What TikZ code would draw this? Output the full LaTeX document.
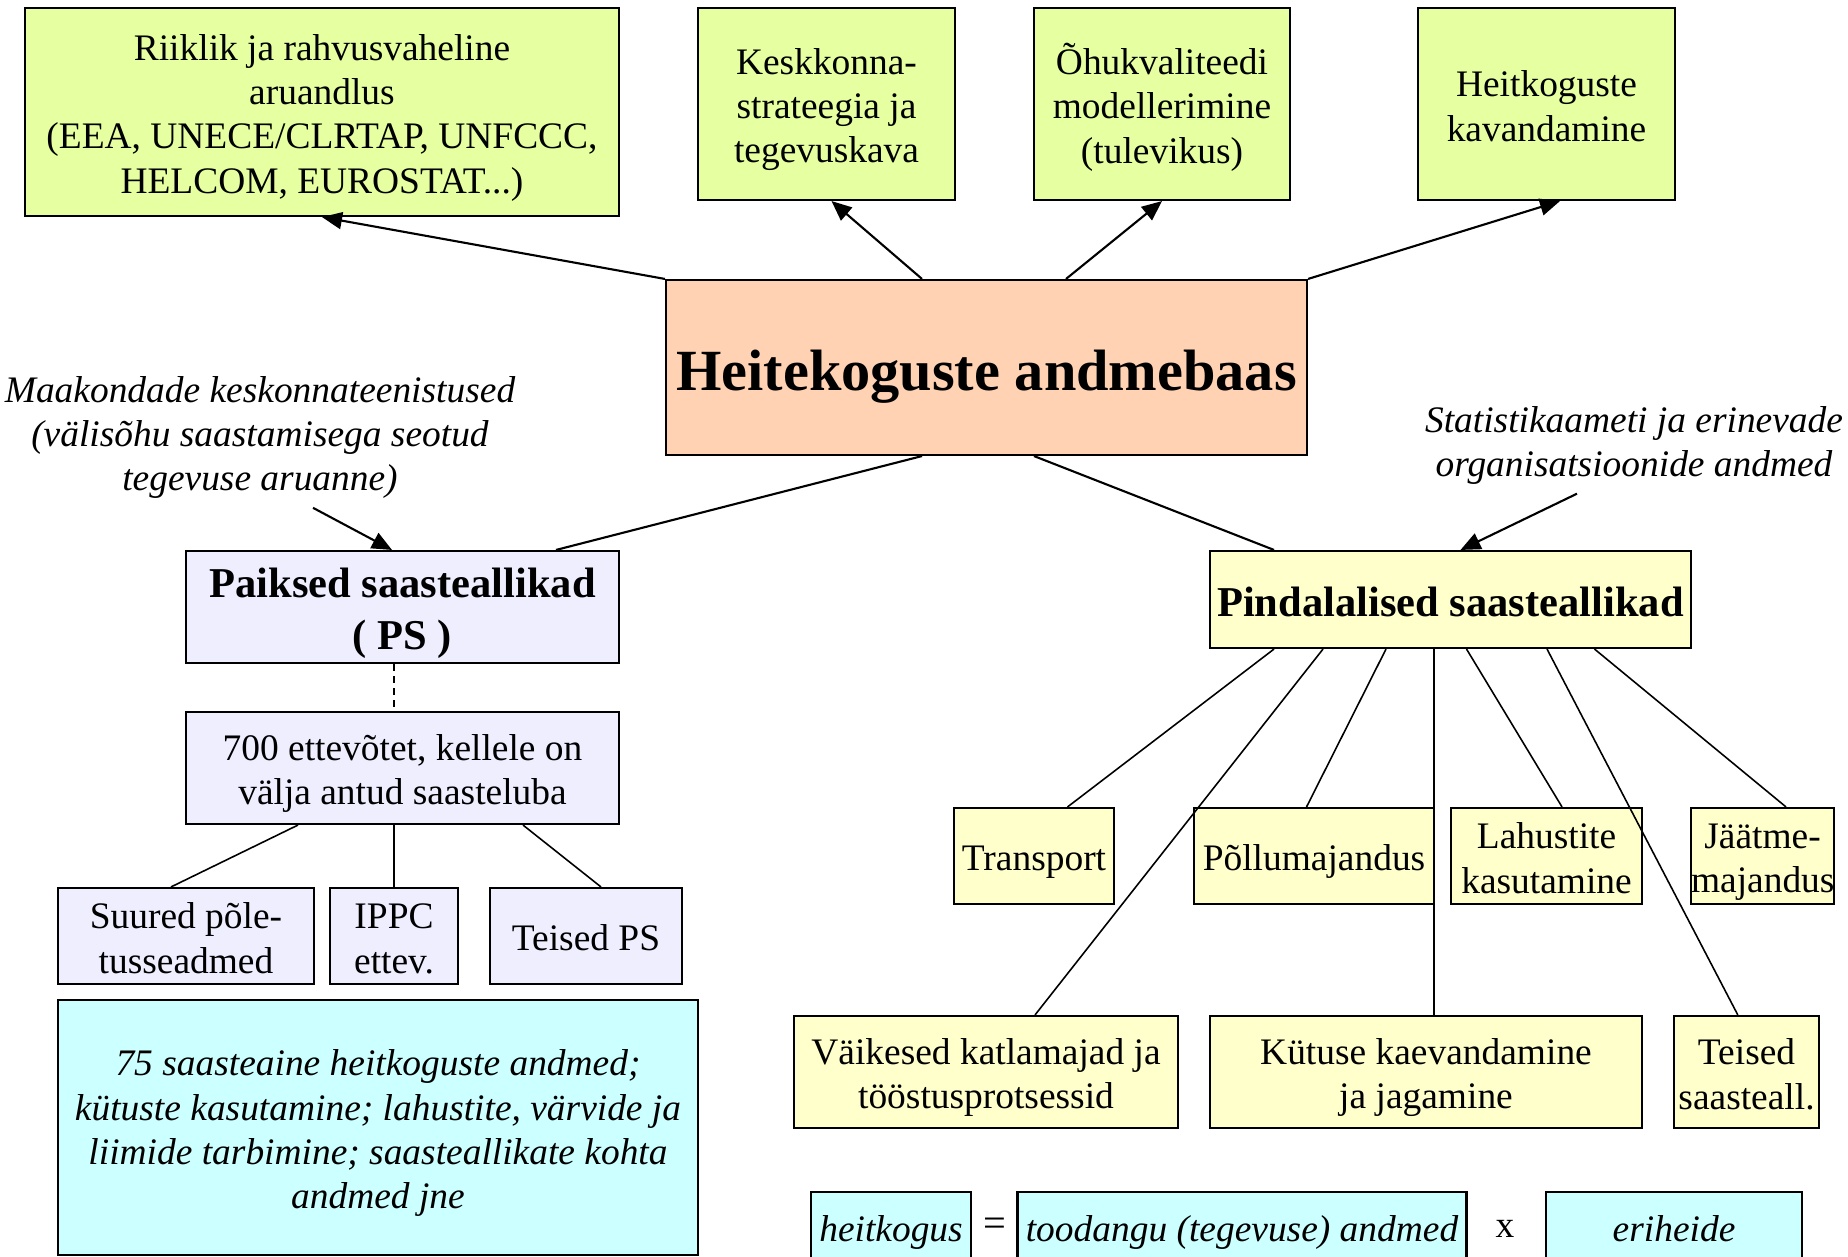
\documentclass[tikz,border=0pt]{standalone}
\usepackage{fontspec}
\setmainfont{Liberation Serif}
\usepackage{tikz}
\usetikzlibrary{arrows.meta}
\definecolor{kollroheline}{HTML}{E6FFA0}
\definecolor{virsik}{HTML}{FFD2B4}
\definecolor{lilla}{HTML}{EEEEFF}
\definecolor{kollane}{HTML}{FFFFCC}
\definecolor{helesinine}{HTML}{CCFFFF}
\newcommand\ylastrut{\rule{0pt}{1.0em}}
\newcommand\alastrut{\rule[-0.2em]{0pt}{0.2em}}

\begin{document}
\begin{tikzpicture}[>={Triangle[length=0.2cm,width=0.17cm]},line width=0.6pt,
  plainbox/.style={draw,rectangle,inner sep=0pt,align=flush center,font=\fontsize{10.65}{12.6}\selectfont,
    execute at begin node=\ylastrut,execute at end node=\alastrut},
  kast/.style 2 args={minimum width=#1,text width=#1,minimum height=#2},
  use node/.style={plainbox,fill=kollroheline},
  ps node/.style={plainbox,fill=lilla},
  pind node/.style={plainbox,fill=kollane},
  data node/.style={plainbox,fill=helesinine,font=\fontsize{10.65}{12.6}\selectfont\itshape},
  bold node/.style={font=\fontsize{12.1}{14.8}\selectfont\bfseries},
  haru/.style={line width=0.45pt},
  note/.style={align=center,inner sep=0pt,font=\fontsize{10.65}{12.6}\selectfont\itshape}]

  \useasboundingbox (0,0) rectangle (18.48,-12.56);

  % kasutajad
  \node[use node,kast={5.94cm}{2.08cm}] (riik) at (3.22,-1.12)
    {Riiklik ja rahvusvaheline\\aruandlus\\(EEA, UNECE/CLRTAP, UNFCCC,\\HELCOM, EUROSTAT...)};
  \node[use node,kast={2.57cm}{1.92cm}] (kesk) at (8.265,-1.04)
    {Keskkonna-\\strateegia ja\\tegevuskava};
  \node[use node,kast={2.56cm}{1.92cm}] (ohk) at (11.62,-1.04)
    {Õhukvaliteedi\\modellerimine\\(tulevikus)};
  \node[use node,kast={2.57cm}{1.92cm}] (kav) at (15.465,-1.04)
    {Heitkoguste\\kavandamine};

  \node[plainbox,fill=virsik,kast={6.41cm}{1.75cm},
    font=\fontsize{16.6}{20}\selectfont\bfseries] (baas) at (9.865,-3.675) {Heitekoguste andmebaas};

  \node[note] (maak) at (2.60,-4.375)
    {Maakondade keskonnateenistused\\(välisõhu saastamisega seotud\\tegevuse aruanne)};
  \node[note] (stat) at (16.34,-4.455)
    {Statistikaameti ja erinevade\\organisatsioonide andmed};

  % paiksed saasteallikad
  \node[ps node,bold node,kast={4.33cm}{1.12cm}] (paik) at (4.025,-6.07)
    {Paiksed saasteallikad\\( PS )};
  \node[ps node,kast={4.33cm}{1.12cm}] (luba) at (4.025,-7.68)
    {700 ettevõtet, kellele on\\välja antud saasteluba};
  \node[ps node,kast={2.56cm}{0.96cm}] (suur) at (1.86,-9.36) {Suured põle-\\tusseadmed};
  \node[ps node,kast={1.28cm}{0.96cm}] (ippc) at (3.94,-9.36) {IPPC\\ettev.};
  \node[ps node,kast={1.92cm}{0.96cm}] (teisps) at (5.86,-9.36) {Teised PS};
  \node[data node,kast={6.40cm}{2.55cm}] (andm) at (3.78,-11.275)
    {75 saasteaine heitkoguste andmed;\\kütuste kasutamine; lahustite, värvide ja\\liimide tarbimine; saasteallikate kohta\\andmed jne};

  % pindalalised saasteallikad
  \node[pind node,bold node,kast={4.81cm}{0.97cm}] (pind) at (14.505,-5.995)
    {Pindalalised saasteallikad};
  \node[pind node,kast={1.60cm}{0.96cm}] (trans) at (10.34,-8.56) {Transport};
  \node[pind node,kast={2.40cm}{0.96cm}] (pollu) at (13.14,-8.56) {Põllumajandus};
  \node[pind node,kast={1.91cm}{0.96cm}] (lah) at (15.465,-8.56) {Lahustite\\kasutamine};
  \node[pind node,kast={1.43cm}{0.96cm}] (jaat) at (17.625,-8.56) {Jäätme-\\majandus};
  \node[pind node,kast={3.84cm}{1.12cm}] (vaik) at (9.86,-10.72)
    {Väikesed katlamajad ja\\tööstusprotsessid};
  \node[pind node,kast={4.32cm}{1.12cm}] (kyt) at (14.26,-10.72)
    {Kütuse kaevandamine\\ja jagamine};
  \node[pind node,kast={1.45cm}{1.12cm}] (teisl) at (17.465,-10.72) {Teised\\saasteall.};

  % valem
  \node[data node,kast={1.60cm}{0.70cm}] (heit) at (8.91,-12.27) {heitkogus};
  \node[font=\fontsize{11.5}{12.6}\selectfont] (vordub) at (9.95,-12.27) {=};
  \node[data node,kast={4.49cm}{0.70cm}] (tood) at (12.42,-12.27) {toodangu (tegevuse) andmed};
  \node[font=\fontsize{10.65}{12.6}\selectfont] (korda) at (15.05,-12.29) {x};
  \node[data node,kast={2.56cm}{0.70cm}] (erih) at (16.74,-12.27) {eriheide};

  \path[->]
    (baas.north west) edge (riik.south)
    ([xshift=-0.645cm]baas.north) edge ([xshift=0.05cm]kesk.south)
    ([xshift=0.795cm]baas.north) edge (ohk.south)
    (baas.north east) edge ([xshift=0.135cm]kav.south)
    ([xshift=0.53cm,yshift=-0.08cm]maak.south) edge ([xshift=-0.105cm]paik.north)
    ([xshift=-0.57cm,yshift=-0.08cm]stat.south) edge ([xshift=0.1cm]pind.north);

  \path
    ([xshift=-0.645cm]baas.south) edge ([xshift=1.535cm]paik.north)
    ([xshift=0.475cm]baas.south) edge ([xshift=-1.765cm]pind.north)
    ([xshift=-0.085cm]paik.south) edge[dash pattern=on 0.07cm off 0.05cm] ([xshift=-0.085cm]luba.north);

  \path[haru]
    ([xshift=-1.045cm]luba.south) edge ([xshift=-0.15cm]suur.north)
    ([xshift=-0.085cm]luba.south) edge (ippc.north)
    ([xshift=1.205cm]luba.south) edge ([xshift=0.15cm]teisps.north)
    ([xshift=-1.765cm]pind.south) edge ([xshift=0.335cm]trans.north)
    ([xshift=-1.275cm]pind.south) edge ([xshift=0.49cm]vaik.north)
    ([xshift=-0.645cm]pind.south) edge ([xshift=-0.075cm]pollu.north)
    ([xshift=-0.165cm]pind.south) edge ([xshift=0.08cm]kyt.north)
    ([xshift=0.16cm]pind.south) edge ([xshift=0.155cm]lah.north)
    ([xshift=0.965cm]pind.south) edge ([xshift=-0.087cm]teisl.north)
    ([xshift=1.44cm]pind.south) edge ([xshift=0.235cm]jaat.north);
\end{tikzpicture}
\end{document}
